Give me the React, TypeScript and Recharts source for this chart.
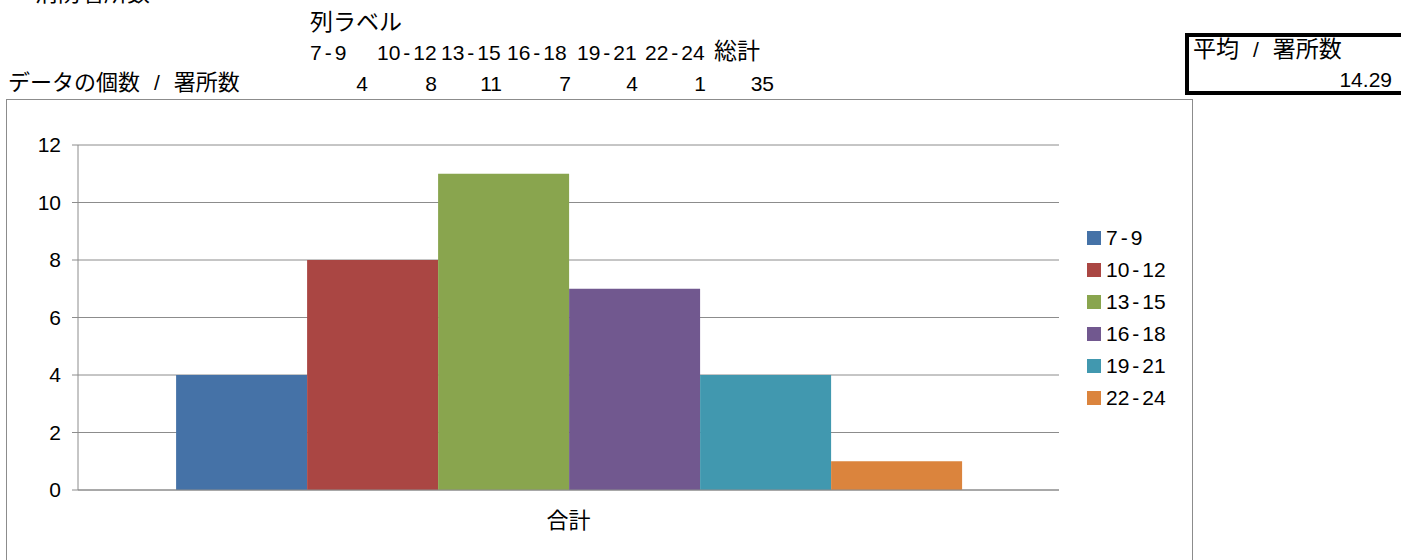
import React from 'react';
import { BarChart, Bar, XAxis, YAxis, CartesianGrid, Legend } from 'recharts';

const FONT = "'Liberation Sans', Arial, 'Noto Sans CJK JP', sans-serif";

// pivot columns and counts
const ranges = ['7-9', '10-12', '13-15', '16-18', '19-21', '22-24'];
const counts = [4, 8, 11, 7, 4, 1];
const colors = ['#4572A7', '#AA4643', '#89A54E', '#71588F', '#4198AF', '#DB843D'];
const categoryName = '合計';
const totalLabel = '総計';
const yTicks = [0, 2, 4, 6, 8, 10, 12];
const averageValue = '14.29';

const chartData = [
  ranges.reduce<Record<string, string | number>>(
    (row, r, i) => {
      row[r] = counts[i];
      return row;
    },
    { name: categoryName }
  ),
];

const total = counts.reduce((a, b) => a + b, 0);

// hyphen in the sheet font is wider than in Arial
const RangeText = ({ text }: { text: string }) => {
  const parts = text.split('-');
  if (parts.length < 2) return <>{text}</>;
  return (
    <>
      {parts[0]}
      <span style={{ margin: '0 3px' }}>-</span>
      {parts[1]}
    </>
  );
};

// "A / B" labels: the sheet font uses wide spaces round the slash
const SlashText = ({ text }: { text: string }) => {
  const [a, b] = text.split(' / ');
  return (
    <>
      {a}
      <span style={{ margin: '0 14px', fontSize: 21 }}>/</span>
      {b}
    </>
  );
};

// pivot table header positions (left of each column label, right edge of each count)
const colLeft = [310, 377, 441, 507, 577, 645, 714];
const countRight = [368, 437, 502, 571, 638, 706, 774];

const cell: React.CSSProperties = {
  position: 'absolute',
  fontSize: 21,
  lineHeight: '21px',
  whiteSpace: 'nowrap',
  color: '#000',
};

const renderLegend = (props: any) => {
  const items = [...(props.payload || [])].sort(
    (a: any, b: any) => ranges.indexOf(String(a.value)) - ranges.indexOf(String(b.value))
  );
  return (
    <div style={{ fontFamily: FONT, fontSize: 21 }}>
      {items.map((entry: any) => (
        <div
          key={entry.value}
          style={{ display: 'flex', alignItems: 'center', height: 32 }}
        >
          <span
            style={{
              display: 'inline-block',
              width: 14,
              height: 14,
              background: entry.color,
              marginRight: 5,
            }}
          />
          <span>
            <RangeText text={String(entry.value)} />
          </span>
        </div>
      ))}
    </div>
  );
};

export default function App() {
  return (
    <div
      style={{
        position: 'absolute',
        left: 0,
        top: 0,
        width: 1401,
        height: 560,
        overflow: 'hidden',
        background: '#fff',
        fontFamily: FONT,
      }}
    >
      <div style={{ ...cell, fontSize: 23, left: 35, top: -17 }}>消防署所数</div>
      <div style={{ ...cell, fontSize: 23, left: 310, top: 12 }}>列ラベル</div>
      {ranges.map((r, i) => (
        <div key={r} style={{ ...cell, left: colLeft[i], top: 42 }}>
          <RangeText text={r} />
        </div>
      ))}
      <div style={{ ...cell, fontSize: 23, left: colLeft[6], top: 41 }}>{totalLabel}</div>
      <div style={{ ...cell, fontSize: 22, left: 8, top: 72 }}>
        <SlashText text="データの個数 / 署所数" />
      </div>
      {[...counts, total].map((c, i) => (
        <div
          key={i}
          style={{ ...cell, left: countRight[i] - 60, width: 60, textAlign: 'right', top: 73 }}
        >
          {c}
        </div>
      ))}

      <div
        style={{
          position: 'absolute',
          left: 1185,
          top: 33,
          width: 240,
          height: 54,
          border: '4px solid #000',
        }}
      >
        <div style={{ ...cell, fontSize: 23, left: 4, top: 2 }}>
          <SlashText text="平均 / 署所数" />
        </div>
        <div style={{ ...cell, left: 0, width: 203, textAlign: 'right', top: 32 }}>
          {averageValue}
        </div>
      </div>

      <div
        style={{
          position: 'absolute',
          left: 6,
          top: 99,
          width: 1185,
          height: 470,
          border: '1px solid #8c8c8c',
          background: '#fff',
        }}
      >
        <BarChart
          width={1185}
          height={470}
          data={chartData}
          margin={{ top: 45, right: 133, bottom: 40, left: 0 }}
          barCategoryGap="10%"
          barGap={0}
        >
          <CartesianGrid vertical={false} stroke="#8c8c8c" />
          <XAxis
            dataKey="name"
            height={40}
            axisLine={{ stroke: '#8c8c8c' }}
            tickLine={false}
            tickSize={0}
            tickMargin={22}
            tick={{ fontSize: 22, fill: '#000', fontFamily: FONT }}
          />
          <YAxis
            width={71}
            domain={[0, 12]}
            ticks={yTicks}
            interval={0}
            axisLine={{ stroke: '#8c8c8c' }}
            tickLine={{ stroke: '#8c8c8c' }}
            tickSize={6}
            tickMargin={11}
            tick={{ fontSize: 21, fill: '#000', fontFamily: FONT }}
          />
          <Legend
            layout="vertical"
            align="center"
            verticalAlign="middle"
            content={renderLegend}
            wrapperStyle={{ left: 1080, top: 122, width: 'auto' }}
          />
          {ranges.map((r, i) => (
            <Bar key={r} dataKey={r} fill={colors[i]} isAnimationActive={false} />
          ))}
        </BarChart>
      </div>
    </div>
  );
}
